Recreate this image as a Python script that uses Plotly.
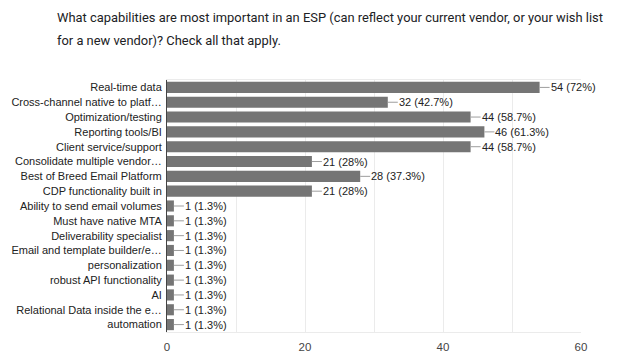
import plotly.graph_objects as go

categories = [
    "Real-time data",
    "Cross-channel native to platf…",
    "Optimization/testing",
    "Reporting tools/BI",
    "Client service/support",
    "Consolidate multiple vendor…",
    "Best of Breed Email Platform",
    "CDP functionality built in",
    "Ability to send email volumes",
    "Must have native MTA",
    "Deliverability specialist",
    "Email and template builder/e…",
    "personalization",
    "robust API functionality",
    "AI",
    "Relational Data inside the e…",
    "automation",
]
counts = [54, 32, 44, 46, 44, 21, 28, 21, 1, 1, 1, 1, 1, 1, 1, 1, 1]
percents = ["72%", "42.7%", "58.7%", "61.3%", "58.7%", "28%", "37.3%", "28%",
            "1.3%", "1.3%", "1.3%", "1.3%", "1.3%", "1.3%", "1.3%", "1.3%", "1.3%"]
x_ticks = [0, 20, 40, 60]
title_lines = [
    "What capabilities are most important in an ESP (can reflect your current vendor, or your wish list",
    "for a new vendor)? Check all that apply.",
]

tfont = "Roboto, Arial, sans-serif"
cfont = "Liberation Sans, Arial, sans-serif"

fig = go.Figure(go.Bar(
    x=counts, y=categories, orientation="h",
    marker=dict(color="#757575", line=dict(width=0)),
    hoverinfo="skip",
))

annotations = []
for c, cat, p in zip(counts, categories, percents):
    annotations.append(dict(
        x=c, y=cat, xref="x", yref="y",
        text=f"{c} ({p})", showarrow=True, arrowhead=0, arrowwidth=1,
        arrowcolor="#9e9e9e", ax=10, ay=0, xanchor="left",
        font=dict(family=cfont, size=11, color="#222"),
        borderpad=0,
    ))

OFF = 8  # page body margin
W, H = 624 - OFF, 362 - OFF
ml, mr, mt, mb = 167 - OFF, 43, 80 - OFF, 30
pw, ph = W - ml - mr, H - mt - mb
for i, line in enumerate(title_lines):
    annotations.append(dict(
        x=(55 - OFF - ml) / pw, y=1 - (17 + 23 * i - OFF - mt) / ph,
        xref="paper", yref="paper", text=line,
        showarrow=False, xanchor="left", yanchor="middle",
        font=dict(family=tfont, size=12.9, color="#202124"),
    ))

fig.update_layout(
    width=W, height=H,
    margin=dict(l=ml, r=mr, t=mt, b=mb, autoexpand=False),
    paper_bgcolor="white", plot_bgcolor="white",
    bargap=0.25,
    showlegend=False,
    annotations=annotations,
    font=dict(family=cfont, size=11, color="#222"),
    xaxis=dict(
        range=[0, 60], tickvals=x_ticks, showgrid=True, gridcolor="#ebebeb",
        minor=dict(dtick=10, showgrid=True, gridcolor="#ebebeb"),
        zeroline=False, showline=True, linecolor="#ebebeb", mirror=True,
        tickfont=dict(family=cfont, size=11.5, color="#444"), ticks="",
        ticklabelstandoff=4,
        automargin=False, fixedrange=True,
    ),
    yaxis=dict(
        autorange="reversed", showline=True, linecolor="#444", linewidth=1,
        ticks="", ticklabelstandoff=2, automargin=False,
        tickfont=dict(family=cfont, size=11, color="#222"),
        fixedrange=True,
    ),
)

fig.write_html("out.html")
